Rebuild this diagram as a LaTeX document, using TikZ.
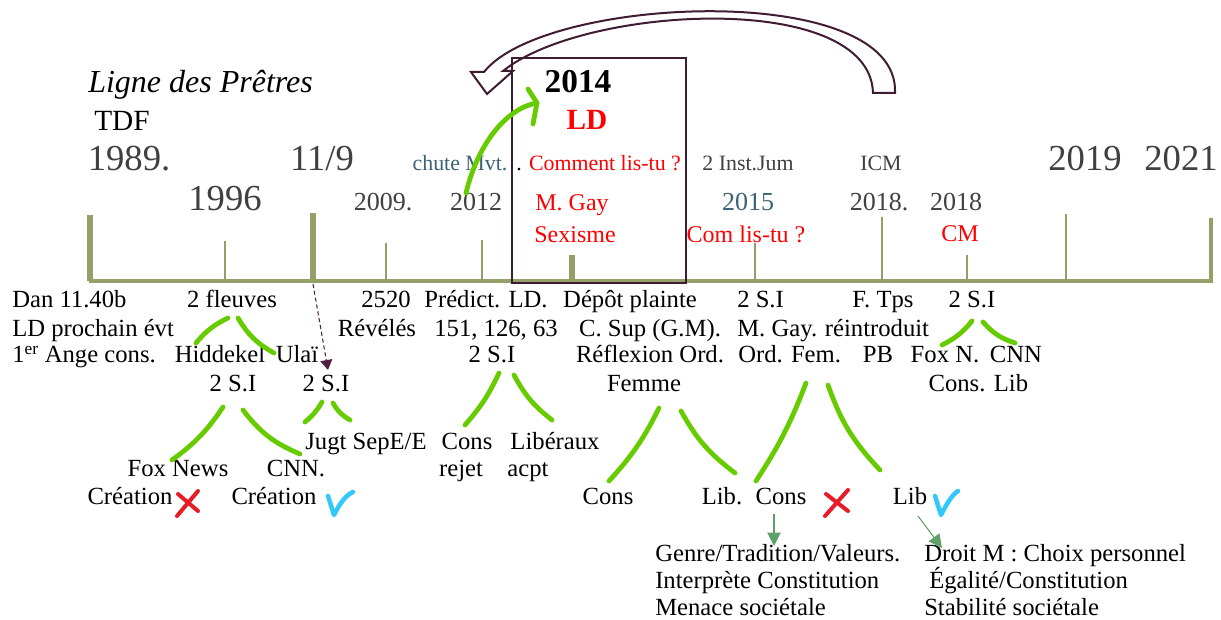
\documentclass[tikz,border=0pt]{standalone}
\usepackage{fontspec}
\setmainfont{Liberation Serif}
\usetikzlibrary{arrows.meta}
\definecolor{olivebar}{RGB}{147,160,104}
\definecolor{numgray}{RGB}{64,64,64}
\definecolor{tealtxt}{RGB}{58,98,116}
\definecolor{boxplum}{RGB}{62,28,50}
\definecolor{leafgreen}{RGB}{102,204,0}
\definecolor{crossred}{RGB}{232,28,40}
\definecolor{checkblue}{RGB}{51,200,250}
\definecolor{arrowgreen}{RGB}{95,160,105}
\definecolor{dashplum}{RGB}{80,30,65}
\tikzset{
  lbl/.style={inner sep=0pt, anchor=base, font=\fontsize{18.5}{22}\selectfont},
  lblw/.style={lbl, anchor=base west},
  bigyear/.style={inner sep=0pt, anchor=base, text=numgray, font=\fontsize{27.5}{32}\selectfont},
  year/.style={inner sep=0pt, anchor=base, text=numgray, font=\fontsize{19.5}{23}\selectfont},
  event/.style={inner sep=0pt, anchor=base, font=\fontsize{16.4}{20}\selectfont},
  hot/.style={inner sep=0pt, anchor=base, text=red, font=\fontsize{18}{22}\selectfont},
  tline/.style={olivebar},
  branch/.style={leafgreen, line width=3.6pt, line cap=round, line join=round},
  cross/.style={crossred, line width=3pt, line cap=round},
  okmark/.style={checkblue, line width=3.4pt, line cap=round, line join=round},
  pointer/.style={arrowgreen, line width=0.8pt, -{Triangle[length=10pt,width=10pt]}}
}
\begin{document}
\begin{tikzpicture}[x=0.75pt,y=-0.75pt]
	\useasboundingbox (0,0) rectangle (1221,620);
	% timeline
	\draw[tline, line width=2.6pt] (89,281) -- (1213,281);
	\foreach \x/\t/\w in {90/215/4.5, 225/241/2.2, 313/213/4.1, 386/243/2.2, 482/240/2.2, 572/255/4.1, 755/243/2.2, 882/217/2.2, 967/255/2.2, 1066/214/2.2, 1211/218/2.6}
		\draw[tline, line width=\w pt] (\x,\t) -- (\x,281);
	\coordinate (t911) at (313,284);
	% header
	\node[inner sep=0pt, anchor=base west, font=\fontsize{24}{28}\selectfont\itshape] (ligne) at (88,93) {Ligne des Prêtres};
	\node[inner sep=0pt, anchor=base west, font=\fontsize{22}{26}\selectfont] (tdf) at (94,131) {TDF};
	\node[bigyear] (y1989) at (129,171) {1989.};
	\node[bigyear] (y119) at (322,171) {11/9};
	\node[bigyear] (y1996) at (225,211) {1996};
	\node[bigyear] (y2019) at (1085,171) {2019};
	\node[bigyear] (y2021) at (1181,171) {2021};
	\node[year] (y2009) at (383,211) {2009.};
	\node[year] (y2012) at (476,211) {2012};
	\node[year, text=tealtxt] (y2015) at (748,211) {2015};
	\node[year] (y2018a) at (879,211) {2018.};
	\node[year] (y2018b) at (956,211) {2018};
	\node[event, text=tealtxt] (chute) at (460,171) {chute Mvt.};
	\node[event, text=red, anchor=base west] (comment) at (516,171) {\textcolor{black}{.} Comment lis-tu ?};
	\node[event, text=numgray] (inst) at (748,171) {2 Inst.Jum};
	\node[event, text=numgray] (icm) at (881,171) {ICM};
	\node[hot] (mgay) at (572,211) {M. Gay};
	\node[hot] (sexisme) at (575,243) {Sexisme};
	\node[hot] (comlis) at (746,243) {Com lis-tu ?};
	\node[hot] (cm) at (960,242) {CM};
	\node[inner sep=0pt, anchor=base, font=\fontsize{25}{30}\selectfont\bfseries] (y2014) at (578,93) {2014};
	\node[inner sep=0pt, anchor=base, text=red, font=\fontsize{22}{26}\selectfont\bfseries] (ld) at (587,130) {LD};
	% box and loop arrow
	\draw[boxplum, line width=1.9pt] (512,58) rectangle (686,283);
	\draw[boxplum, line width=1.5pt, line join=miter] (484,72) .. controls (545,-5) and (900,-20) .. (895,93) -- (873,93) .. controls (870,-10) and (585,5) .. (503,71) -- (513,71) -- (487,94) -- (471,72) -- cycle;
	\coordinate (tip) at ([shift={(-41,10)}]y2014.base);
	\draw[branch] ([shift={(-10,-18)}]y2012.base) .. controls +(12,-50) and +(-30,5) .. (tip);
	\draw[branch] (tip) +(-9,-14) -- (tip) -- +(-4,21);
	% under the line
	\node[lblw] (dan) at (12,308) {Dan 11.40b};
	\node[lblw] (prochain) at (12,336) {LD prochain évt};
	\node[lblw] (ange) at (12,363) {1\textsuperscript{er} Ange cons.};
	\node[lbl] (fleuves) at (232,308) {2 fleuves};
	\node[lbl] (hiddekel) at (220,363) {Hiddekel};
	\node[lbl] (ulai) at (297,363) {Ulaï};
	\node[lbl] (si1) at (233,392) {2 S.I};
	\node[lbl] (si2) at (326,392) {2 S.I};
	\node[lbl] (n2520) at (386,308) {2520};
	\node[lbl] (reveles) at (377,336) {Révélés};
	\node[lbl] (predict) at (486,308) {Prédict. LD.};
	\node[lbl] (nums) at (496,336) {151, 126, 63};
	\node[lbl] (si3) at (492,363) {2 S.I};
	\node[lbl] (depot) at (630,308) {Dépôt plainte};
	\node[lbl] (csup) at (650,336) {C. Sup (G.M).};
	\node[lbl] (reflex) at (650,363) {Réflexion Ord.};
	\node[lbl] (femme) at (644,392) {Femme};
	\node[lblw] (si5) at (737,308) {2 S.I};
	\node[lblw] (mgay2) at (737,336) {M. Gay.};
	\node[lblw] (ordfem) at (738,363) {Ord. Fem.};
	\node[lbl] (ftps) at (883,308) {F. Tps};
	\node[lbl] (reintro) at (877,336) {réintroduit};
	\node[lbl] (pb) at (878,363) {PB};
	\node[lbl] (si4) at (972,308) {2 S.I};
	\node[lbl] (foxn) at (945,363) {Fox N.};
	\node[lbl] (cnnb) at (1016,363) {CNN};
	\node[lbl] (consb) at (957,392) {Cons.};
	\node[lbl] (libb) at (1011,392) {Lib};
	\node[lbl] (jugt) at (366,449) {Jugt SepE/E};
	\node[lbl] (consr) at (467,449) {Cons};
	\node[lbl] (rejet) at (461,476) {rejet};
	\node[lbl] (liberaux) at (555,449) {Libéraux};
	\node[lbl] (acpt) at (528,476) {acpt};
	\node[lbl] (foxnews) at (178,476) {Fox News};
	\node[lbl] (cnn) at (296,476) {CNN.};
	\node[lbl] (creat1) at (130,504) {Création};
	\node[lbl] (creat2) at (274,504) {Création};
	\node[lbl] (cons1) at (608,504) {Cons};
	\node[lbl] (lib1) at (722,504) {Lib.};
	\node[lbl] (cons2) at (781,504) {Cons};
	\node[lbl] (lib2) at (910,504) {Lib};
	\node[lblw] (genre) at (655,561) {Genre/Tradition/Valeurs.};
	\node[lblw] (interp) at (655,588) {Interprète Constitution};
	\node[lblw] (menace) at (655,615) {Menace sociétale};
	\node[lblw] (droit) at (924,561) {Droit M : Choix personnel};
	\node[lblw] (egal) at (929,588) {Égalité/Constitution};
	\node[lblw] (stab) at (924,615) {Stabilité sociétale};
	% branches
	\draw[branch] ([shift={(-4,10)}]fleuves.base) to[bend right=12] ([shift={(-24,-20)}]hiddekel.base);
	\draw[branch] ([shift={(6,10)}]fleuves.base) to[bend right=15] ([shift={(-23,-10)}]ulai.base);
	\draw[branch] ([shift={(-10,15)}]si1.base) to[bend left=10] ([shift={(-6,-16)}]foxnews.base);
	\draw[branch] ([shift={(10,18)}]si1.base) to[bend right=15] ([shift={(4,-22)}]cnn.base);
	\draw[branch] ([shift={(-4,10)}]si2.base) to[bend left=10] ([shift={(-61,-27)}]jugt.base);
	\draw[branch] ([shift={(7,11)}]si2.base) to[bend right=15] ([shift={(-16,-29)}]jugt.base);
	\draw[branch] ([shift={(7,10)}]si3.base) to[bend left=8] ([shift={(-2,-24)}]consr.base);
	\draw[branch] ([shift={(22,12)}]si3.base) to[bend right=12] ([shift={(-3,-29)}]liberaux.base);
	\draw[branch] ([shift={(15,16)}]femme.base) to[bend left=8] ([shift={(1,-23)}]cons1.base);
	\draw[branch] ([shift={(37,19)}]femme.base) to[bend right=12] ([shift={(13,-31)}]lib1.base);
	\draw[branch] ([shift={(68,20)}]ordfem.base west) to[bend left=6] ([shift={(-25,-23)}]cons2.base);
	\draw[branch] ([shift={(90,22)}]ordfem.base west) to[bend right=12] ([shift={(-30,-34)}]lib2.base);
	\draw[branch] ([shift={(0,13)}]si4.base) to[bend left=12] ([shift={(-3,-18)}]foxn.base);
	\draw[branch] ([shift={(11,14)}]si4.base) to[bend right=15] ([shift={(-1,-20)}]cnnb.base);
	% arrows
	\draw[dashplum, line width=0.8pt, dash pattern=on 3pt off 2.2pt, -{Triangle[length=7.5pt,width=9pt]}] (t911) -- ([shift={(2,-22)}]si2.base);
	\draw[pointer] ([shift={(-7,10)}]cons2.base) -- ([shift={(119,-15)}]genre.base west);
	\draw[pointer] ([shift={(8,12)}]lib2.base) -- ([shift={(18,-13)}]droit.base west);
	% marks
	\draw[cross] (178,494) -- (198,511);
	\draw[cross] (198,491) -- (177,516);
	\draw[cross] (826,494) -- (848,511);
	\draw[cross] (848,490) -- (825,516);
	\draw[okmark] (328,496) -- (334,515) .. controls (340,503) and (346,495) .. (353,492);
	\draw[okmark] (935,496) -- (941,515) .. controls (947,503) and (952,495) .. (958,491);
\end{tikzpicture}
\end{document}
